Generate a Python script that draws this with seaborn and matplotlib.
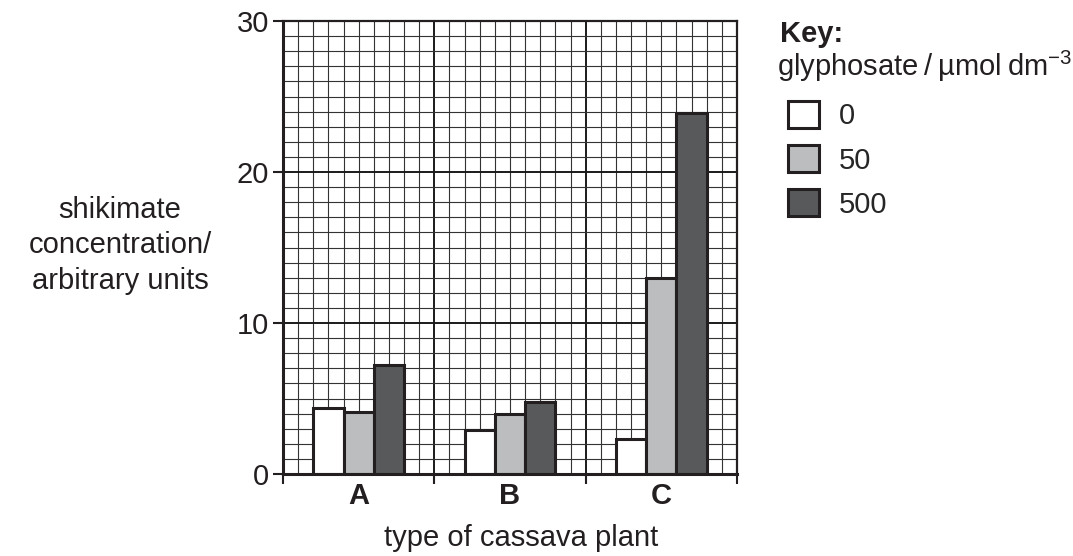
import pandas as pd
import matplotlib.pyplot as plt
import seaborn as sns
from matplotlib.patches import Patch
from matplotlib.ticker import MultipleLocator, FixedLocator

# -----------------------------------
# DATA
# -----------------------------------
plants = ["A", "B", "C"]
glyphosate_levels = ["0", "50", "500"]
conc_0 = [4.4, 2.9, 2.3]
conc_50 = [4.1, 4.0, 13.0]
conc_500 = [7.2, 4.8, 23.9]
y_ticks = [0, 10, 20, 30]

bar_colors = ["#ffffff", "#bcbdbf", "#58595b"]

rows = []
for level, values in zip(glyphosate_levels, [conc_0, conc_50, conc_500]):
    for plant, v in zip(plants, values):
        rows.append({"plant": plant, "glyphosate": level, "shikimate": v})
df = pd.DataFrame(rows)

# -----------------------------------
# STYLE
# -----------------------------------
sns.set_theme(style="white")
plt.rcParams["font.family"] = ["Liberation Sans", "DejaVu Sans"]
plt.rcParams["mathtext.fontset"] = "custom"
plt.rcParams["mathtext.rm"] = "Liberation Sans"
plt.rcParams["mathtext.default"] = "regular"

fs = 21
ink = "#231f20"

fig = plt.figure(figsize=(10.73, 5.56), dpi=100)
ax = fig.add_axes([283 / 1073, 1 - 474 / 556, 454 / 1073, 453 / 556])

sns.barplot(
    data=df,
    x="plant",
    y="shikimate",
    hue="glyphosate",
    order=plants,
    hue_order=glyphosate_levels,
    palette=bar_colors,
    width=0.6,
    edgecolor=ink,
    linewidth=2.2,
    saturation=1,
    errorbar=None,
    ax=ax,
    zorder=3,
)
if ax.get_legend() is not None:
    ax.get_legend().remove()

# -----------------------------------
# AXES AND GRID
# -----------------------------------
ax.set_xlim(-0.5, 2.5)
ax.set_ylim(0, 30)

ax.yaxis.set_major_locator(FixedLocator(y_ticks))
ax.yaxis.set_minor_locator(MultipleLocator(1))
ax.xaxis.set_major_locator(FixedLocator([-0.5, 0.5, 1.5, 2.5]))
ax.xaxis.set_minor_locator(FixedLocator([-0.5 + i * 0.1 for i in range(31)]))

ax.set_xticklabels([])
for i, p in enumerate(plants):
    ax.text(i, -1.45, p, ha="center", va="center", fontsize=fs,
            fontweight="bold", color=ink)

ax.grid(which="minor", color="#333333", linewidth=0.8, zorder=0)
ax.grid(which="major", color="#1a1a1a", linewidth=1.4, zorder=0)
ax.set_axisbelow(True)

ax.tick_params(axis="y", which="major", length=7, width=1.5, colors=ink,
               labelsize=fs, pad=3, left=True)
ax.tick_params(axis="x", which="major", length=7, width=1.5, colors=ink,
               bottom=True)
ax.tick_params(which="minor", length=0)

for s in ax.spines.values():
    s.set_color(ink)
    s.set_linewidth(1.6)
    s.set_zorder(4)
ax.spines["left"].set_linewidth(2.2)
ax.spines["bottom"].set_linewidth(2.2)

ax.set_ylabel("shikimate\nconcentration/\narbitrary units", rotation=0,
              fontsize=fs, ha="center", va="center", color=ink,
              linespacing=1.35)
ax.yaxis.set_label_coords(-0.359, 0.505)
ax.set_xlabel("type of cassava plant", fontsize=fs, color=ink, va="center")
ax.xaxis.set_label_coords(0.524, -0.141)

# -----------------------------------
# KEY
# -----------------------------------
fig.text(780 / 1073, 1 - 34 / 556, "Key:", fontsize=fs, fontweight="bold",
         ha="left", va="center", color=ink)
fig.text(777 / 1073, 1 - 66 / 556,
         "glyphosate\u2009/\u2009µmol\u2009dm$^{−3}$",
         fontsize=fs, ha="left", va="center", color=ink)

handles = [Patch(facecolor=c, edgecolor=ink, linewidth=2.2) for c in bar_colors]
fig.legend(
    handles,
    glyphosate_levels,
    loc="upper left",
    bbox_to_anchor=(788 / 1073, 1 - 101 / 556),
    frameon=False,
    fontsize=fs,
    handlelength=1.05,
    handleheight=1.05,
    handletextpad=0.7,
    labelspacing=0.5,
    borderpad=0,
    borderaxespad=0,
)

plt.savefig("out.png", dpi=100)
